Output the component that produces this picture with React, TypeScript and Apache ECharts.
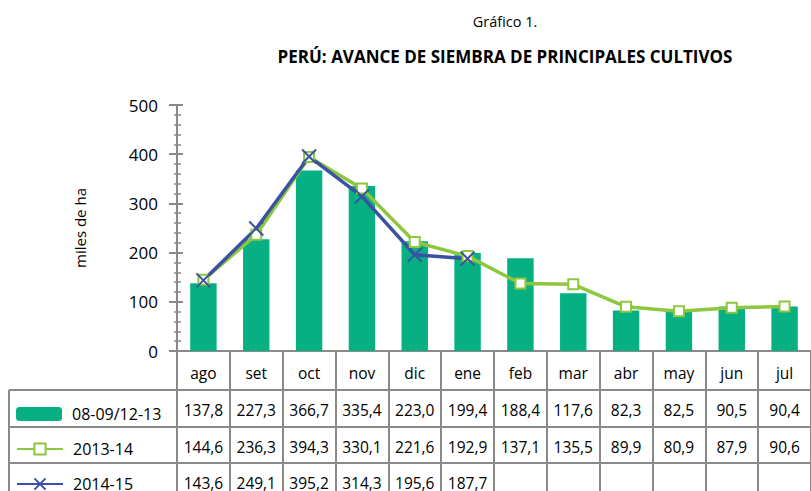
import React, { useEffect, useRef } from "react";
import * as echarts from "echarts";

const months = ["ago", "set", "oct", "nov", "dic", "ene", "feb", "mar", "abr", "may", "jun", "jul"];
const seriesNames = ["08-09/12-13", "2013-14", "2014-15"];
const promedio = [137.8, 227.3, 366.7, 335.4, 223.0, 199.4, 188.4, 117.6, 82.3, 82.5, 90.5, 90.4];
const campania1314 = [144.6, 236.3, 394.3, 330.1, 221.6, 192.9, 137.1, 135.5, 89.9, 80.9, 87.9, 90.6];
const campania1415: (number | null)[] = [143.6, 249.1, 395.2, 314.3, 195.6, 187.7, null, null, null, null, null, null];
const yMin = 0;
const yMax = 500;
const yInterval = 100;

const FONT = "'Open Sans', 'Noto Sans', sans-serif";
const GRAY = "#8a8a8a";
const C_BAR = "#06B083";
const C_GREEN = "#8DC63F";
const C_BLUE = "#3B52A3";

const fmt = (v: number | null) => (v == null ? "" : v.toFixed(1).replace(".", ","));

export default function App() {
  const ref = useRef<HTMLDivElement>(null);
  useEffect(() => {
    if (!ref.current) return;
    const chart = echarts.init(ref.current, undefined, { renderer: "svg" });
    const gridLeft = 177;
    const gridTop = 105;
    const gridH = 248;
    const gridW = 648;
    const axisY = gridTop + gridH;
    const rowLines = [390, 427, 463];
    const legendCenters = [413, 448, 483];
    const tableRowAxis = (data: string[], offset: number) => ({
      type: "category",
      gridIndex: 0,
      position: "bottom",
      offset,
      data,
      axisLine: { show: false },
      axisTick: { show: false },
      axisLabel: { interval: 0, margin: 14, fontSize: 15.5, color: "#000", fontFamily: FONT },
    });
    const option: any = {
      animation: false,
      backgroundColor: "#fff",
      grid: { left: gridLeft, top: gridTop, width: gridW, height: gridH },
      legend: seriesNames.map((n, i) => ({
        orient: "vertical",
        left: 16,
        top: legendCenters[i] - 7,
        padding: 0,
        itemWidth: 46,
        itemHeight: 14,
        data: [n],
        textStyle: { fontSize: 16, color: "#000", fontFamily: FONT, padding: [0, 0, 0, 5] },
      })),
      xAxis: [
        {
          type: "category",
          data: months,
          axisLine: { lineStyle: { color: GRAY, width: 2 } },
          axisTick: { show: true, length: 140, lineStyle: { color: GRAY, width: 2 } },
          axisLabel: { interval: 0, margin: 14, fontSize: 15.5, color: "#000", fontFamily: FONT },
        },
        tableRowAxis(promedio.map(fmt), rowLines[0] - axisY),
        tableRowAxis(campania1314.map(fmt), rowLines[1] - axisY),
        tableRowAxis(campania1415.map(fmt), rowLines[2] - axisY),
      ],
      yAxis: [
        {
          type: "value",
          min: yMin,
          max: yMax,
          interval: yInterval,
          position: "left",
          name: "miles de ha",
          nameLocation: "middle",
          nameGap: 90,
          nameTextStyle: { fontSize: 15, color: "#000", fontFamily: FONT },
          axisLine: { show: true, lineStyle: { color: GRAY, width: 2 } },
          axisTick: { show: true, inside: false, length: 8, lineStyle: { color: GRAY, width: 2 } },
          minorTick: { show: true, splitNumber: 5, length: 3, lineStyle: { color: GRAY, width: 1.5 } },
          axisLabel: { margin: 19, fontSize: 17, color: "#000", fontFamily: FONT },
          splitLine: { show: false },
        },
        {
          type: "value",
          min: yMin,
          max: yMax,
          interval: yInterval,
          position: "left",
          axisLine: { show: false },
          axisTick: { show: true, inside: true, length: 6, lineStyle: { color: GRAY, width: 2 } },
          minorTick: { show: true, splitNumber: 5, length: 4, lineStyle: { color: GRAY, width: 1.5 } },
          axisLabel: { show: false },
          splitLine: { show: false },
        },
      ],
      series: [
        {
          name: seriesNames[0],
          type: "bar",
          data: promedio,
          barWidth: "50%",
          itemStyle: { color: C_BAR },
        },
        {
          name: seriesNames[1],
          type: "line",
          data: campania1314,
          symbol: "emptyRect",
          symbolSize: 10,
          lineStyle: { color: C_GREEN, width: 3.5 },
          itemStyle: { color: C_GREEN, borderColor: C_GREEN, borderWidth: 2 },
        },
        {
          name: seriesNames[2],
          type: "line",
          data: campania1415,
          symbol: "path://M0,0L10,10M10,0L0,10",
          symbolSize: 14,
          lineStyle: { color: C_BLUE, width: 3.5 },
          itemStyle: { color: C_BLUE, borderColor: C_BLUE, borderWidth: 2 },
        },
      ],
      graphic: [
        {
          type: "text",
          x: 505,
          y: 21,
          style: {
            text: "Gráfico 1.",
            fontSize: 14.5,
            fill: "#000",
            fontFamily: FONT,
            textAlign: "center",
            textVerticalAlign: "middle",
          },
        },
        {
          type: "text",
          x: 505,
          y: 56,
          style: {
            text: "PERÚ: AVANCE DE SIEMBRA DE PRINCIPALES CULTIVOS",
            fontSize: 17,
            fontWeight: "bold",
            fill: "#000",
            fontFamily: FONT,
            textAlign: "center",
            textVerticalAlign: "middle",
          },
        },
        ...rowLines.map((y) => ({
          type: "line",
          shape: { x1: 9, y1: y, x2: gridLeft + gridW, y2: y },
          style: { stroke: GRAY, lineWidth: 2 },
        })),
        {
          type: "line",
          shape: { x1: 9, y1: rowLines[0], x2: 9, y2: 491 },
          style: { stroke: GRAY, lineWidth: 2 },
        },
      ],
    };
    chart.setOption(option);
    return () => chart.dispose();
  }, []);
  return <div ref={ref} style={{ position: "fixed", left: 0, top: 0, width: 811, height: 491 }} />;
}
